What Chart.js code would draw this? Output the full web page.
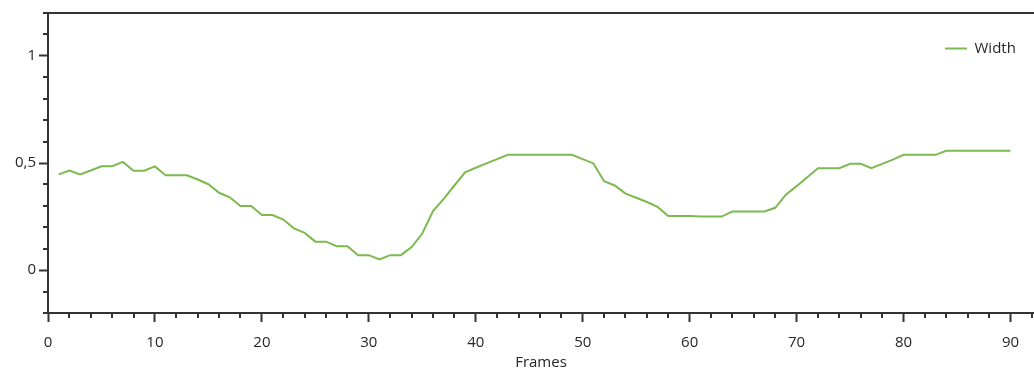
<!DOCTYPE html>
<html>
<head>
<meta charset="utf-8">
<script src="https://cdn.jsdelivr.net/npm/chart.js@4"></script>
<style>
  html, body { margin: 0; padding: 0; background: #fff; }
  #wrap { width: 1034px; height: 372px; }
</style>
</head>
<body>
<div id="wrap"><canvas id="chart" width="1034" height="372"></canvas></div>
<script>
// data
const frames = [];
for (let i = 1; i <= 90; i++) frames.push(i);
const widths = [
  0.447, 0.465, 0.447, 0.465, 0.485, 0.485, 0.505, 0.464, 0.464, 0.484,
  0.443, 0.443, 0.443, 0.423, 0.401, 0.361, 0.340, 0.299, 0.299, 0.257,
  0.257, 0.236, 0.195, 0.174, 0.133, 0.133, 0.112, 0.112, 0.070, 0.070,
  0.050, 0.070, 0.070, 0.108, 0.171, 0.276, 0.333, 0.395, 0.456, 0.478,
  0.498, 0.518, 0.538, 0.538, 0.538, 0.538, 0.538, 0.538, 0.538, 0.518,
  0.498, 0.415, 0.395, 0.357, 0.338, 0.318, 0.295, 0.253, 0.253, 0.253,
  0.250, 0.250, 0.250, 0.274, 0.274, 0.274, 0.274, 0.291, 0.352, 0.392,
  0.434, 0.476, 0.476, 0.476, 0.496, 0.496, 0.476, 0.496, 0.516, 0.538,
  0.538, 0.538, 0.538, 0.557, 0.557, 0.557, 0.557, 0.557, 0.557, 0.557
];
const seriesName = 'Width';
const xTitle = 'Frames';

const axisColor = '#333333';
const textColor = '#262626';
const lineColor = '#7cb94f';
const font = { family: '"Segoe UI", "Open Sans", sans-serif', size: 15 };

// minor tick marks, top border line, legend placement
const minorTicks = {
  id: 'minorTicks',
  afterLayout(chart) {
    const lg = chart.legend;
    const w = lg.width, h = lg.height;
    lg.left = 935; lg.right = lg.left + w;
    lg.top = 31; lg.bottom = lg.top + h;
  },
  afterDraw(chart) {
    const { ctx, chartArea, scales } = chart;
    const xs = scales.x, ys = scales.y;
    ctx.save();
    ctx.strokeStyle = axisColor;
    ctx.lineWidth = 2;
    ctx.beginPath();
    for (let v = 0; v <= 92; v += 2) {
      if (v % 10 === 0) continue;
      const px = Math.round(xs.getPixelForValue(v));
      ctx.moveTo(px, chartArea.bottom);
      ctx.lineTo(px, chartArea.bottom + 5);
    }
    for (let k = -2; k <= 12; k++) {
      if (k % 5 === 0) continue;
      const py = Math.round(ys.getPixelForValue(k / 10));
      ctx.moveTo(chartArea.left - 5, py);
      ctx.lineTo(chartArea.left, py);
    }
    ctx.moveTo(chartArea.left - 5, chartArea.top);
    ctx.lineTo(chartArea.right, chartArea.top);
    ctx.stroke();
    ctx.restore();
  }
};

new Chart(document.getElementById('chart'), {
  type: 'line',
  data: {
    datasets: [{
      label: seriesName,
      data: frames.map((f, i) => ({ x: f, y: widths[i] })),
      borderColor: lineColor,
      backgroundColor: lineColor,
      borderWidth: 2,
      pointRadius: 0,
      tension: 0
    }]
  },
  options: {
    responsive: false,
    animation: false,
    layout: { padding: { top: 13, right: 0, left: 0, bottom: 0 } },
    plugins: {
      legend: {
        position: 'chartArea',
        align: 'start',
        labels: {
          usePointStyle: true,
          pointStyle: 'line',
          pointStyleWidth: 22,
          padding: 10,
          color: textColor,
          font: font
        }
      },
      tooltip: { enabled: false }
    },
    scales: {
      x: {
        type: 'linear',
        min: 0,
        max: 92.2,
        afterFit: s => { s.height = 59; },
        ticks: { stepSize: 10, includeBounds: false, color: textColor, font: font, padding: 12, maxRotation: 0 },
        grid: { drawOnChartArea: false, tickLength: 9, tickColor: axisColor, tickWidth: 2 },
        border: { color: axisColor, width: 2 },
        title: { display: true, text: xTitle, color: textColor, font: font, padding: { top: 0, bottom: 0 } }
      },
      y: {
        min: -0.2,
        max: 1.2,
        afterFit: s => { s.width = 48; },
        ticks: {
          stepSize: 0.5, includeBounds: false, color: textColor, font: font, padding: 3,
          callback: v => String(v).replace('.', ',')
        },
        grid: { drawOnChartArea: false, tickLength: 9, tickColor: axisColor, tickWidth: 2 },
        border: { color: axisColor, width: 2 }
      }
    }
  },
  plugins: [minorTicks]
});
</script>
</body>
</html>
